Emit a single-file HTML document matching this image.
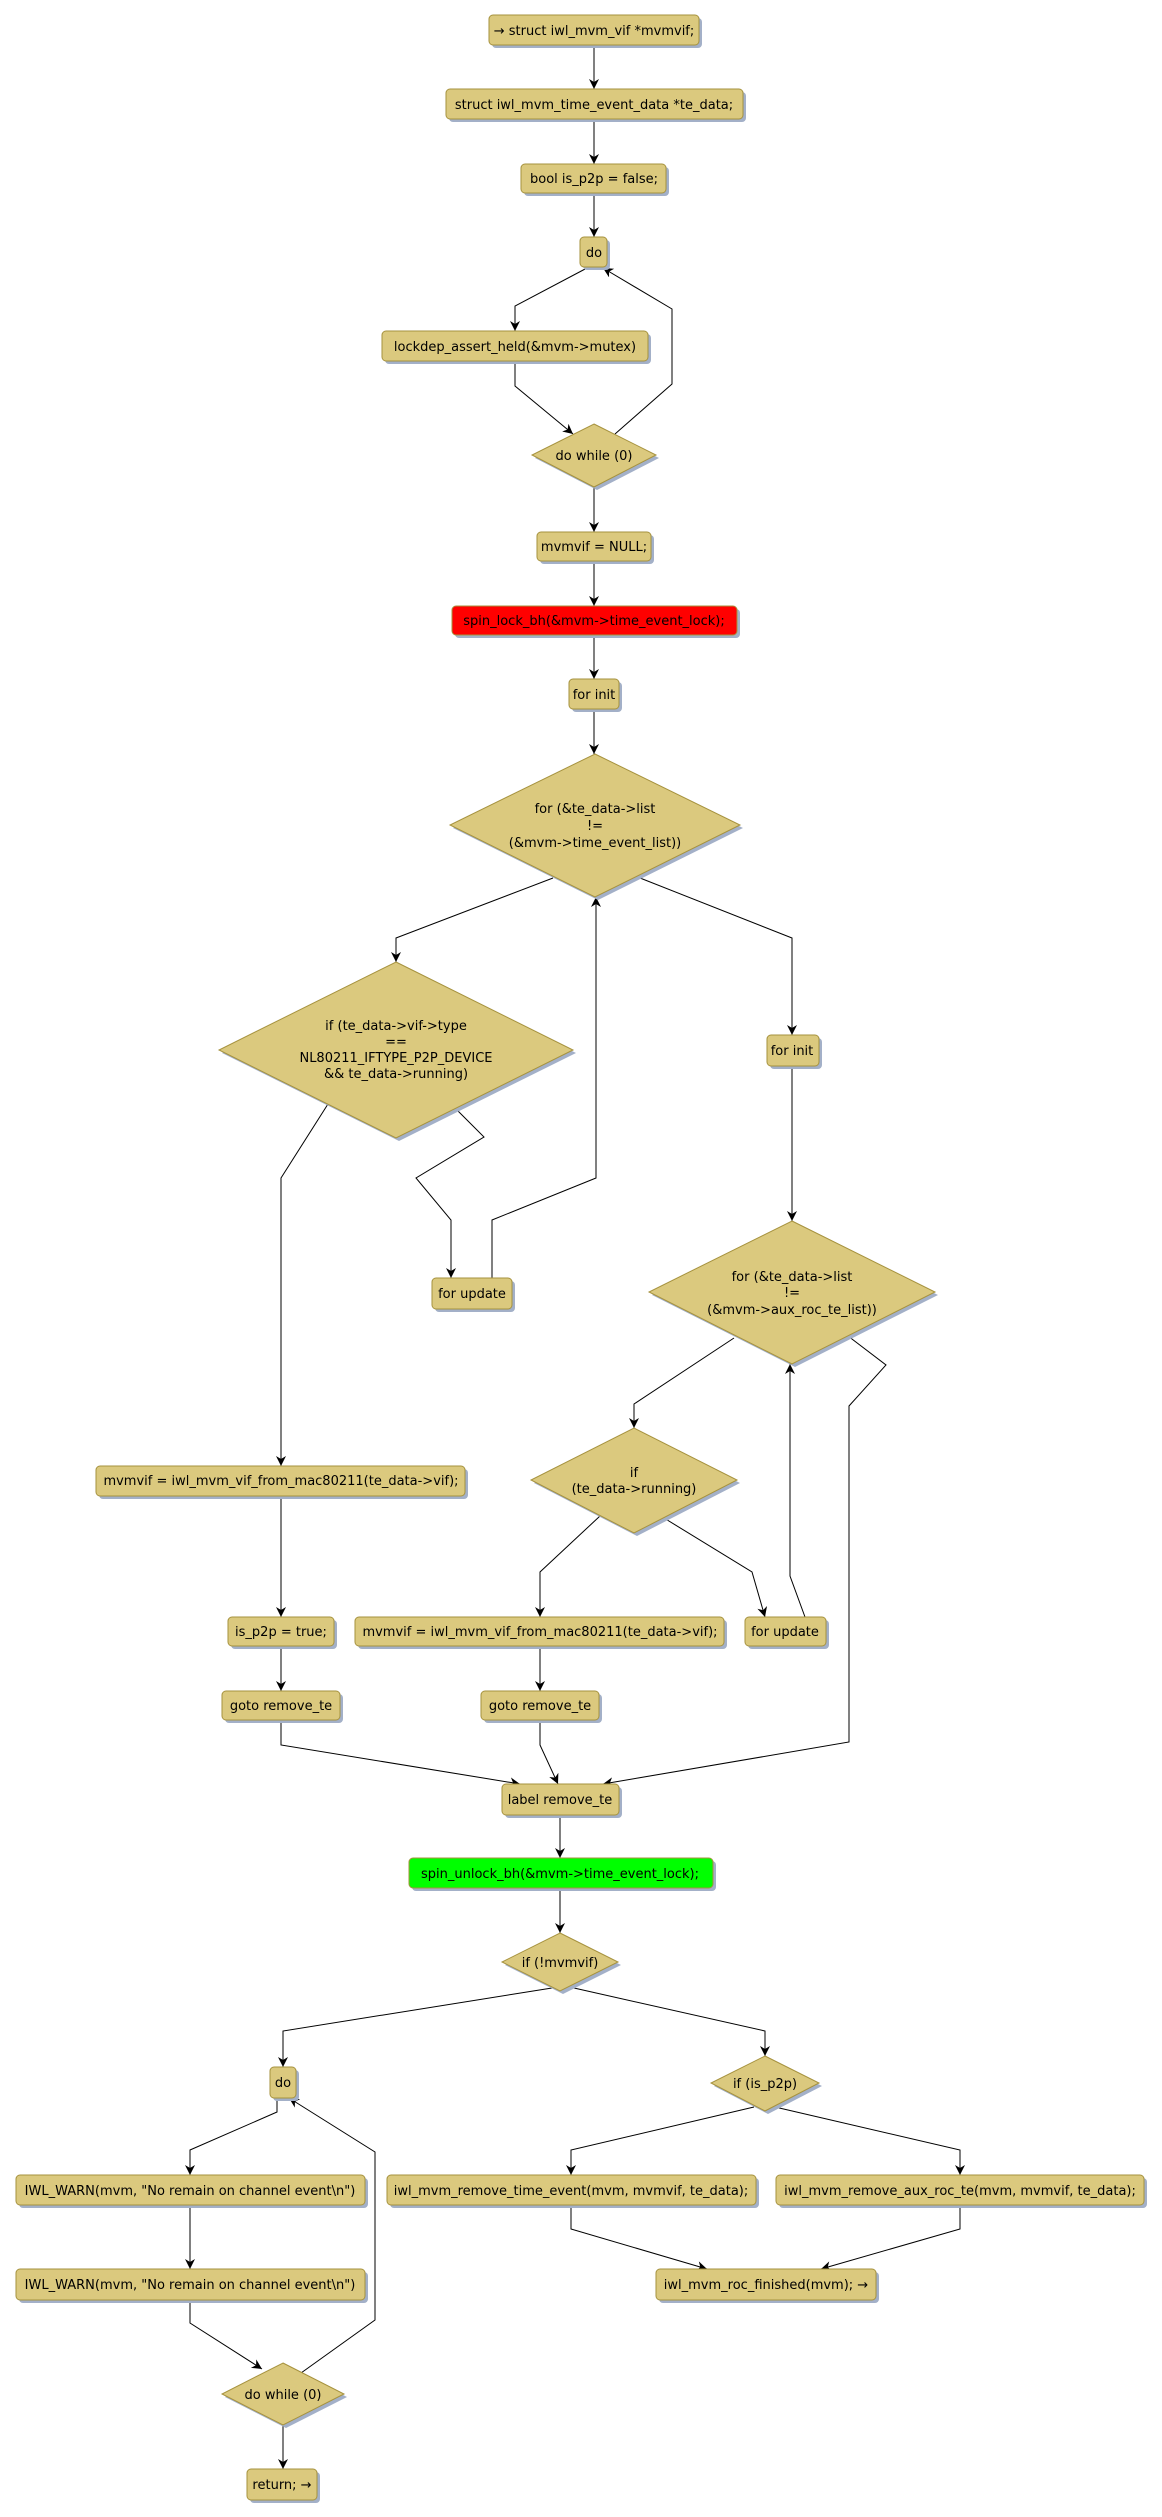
<!DOCTYPE html>
<html><head><meta charset="utf-8"><style>
html,body{margin:0;padding:0;background:#fff;}
svg{display:block;}
text{font-family:"DejaVu Sans","Liberation Sans",sans-serif;font-size:13px;fill:#000;}
.b{fill:#DBC97E;stroke:#A6923E;stroke-width:1;}
.s{fill:#A3B0C8;}
.e{fill:none;stroke:#000;stroke-width:1;}
</style></head><body>
<svg width="1162" height="2517" viewBox="0 0 1162 2517" xmlns="http://www.w3.org/2000/svg">
<defs>
<marker id="a" markerWidth="12" markerHeight="12" refX="10" refY="5" orient="auto" markerUnits="userSpaceOnUse">
<path d="M0,0 L10,5 L0,10 L3,5 z" fill="#000"/>
</marker>
</defs>

<!-- edges -->
<g class="e" marker-end="url(#a)">
<polyline class="e" points="594,45 594,89"/>
<polyline class="e" points="594,119 594,164"/>
<polyline class="e" points="594,193 594,237"/>
<polyline class="e" points="587,268 515,306 515,331"/>
<polyline class="e" points="515,361 515,386 573,434"/>
<polyline class="e" points="615,434 672,384 672,309 603,268"/>
<polyline class="e" points="594,487 594,532"/>
<polyline class="e" points="594,561 594,606"/>
<polyline class="e" points="594,635 594,679"/>
<polyline class="e" points="594,709 594,754"/>
<polyline class="e" points="553,878 396,938 396,962"/>
<polyline class="e" points="640,878 792,938 792,1035"/>
<polyline class="e" points="792,1066 792,1221"/>
<polyline class="e" points="328,1104 281,1178 281,1466"/>
<polyline class="e" points="455,1108 484,1137 416,1178 451,1220 451,1278"/>
<polyline class="e" points="492,1278 492,1220 596,1178 596,897"/>
<polyline class="e" points="734,1338 634,1404 634,1428"/>
<polyline class="e" points="848,1336 886,1365 849,1406 849,1742 603,1784"/>
<polyline class="e" points="805,1617 790,1576 790,1364"/>
<polyline class="e" points="600,1516 540,1572 540,1617"/>
<polyline class="e" points="664,1518 752,1572 765,1617"/>
<polyline class="e" points="281,1495 281,1617"/>
<polyline class="e" points="281,1646 281,1691"/>
<polyline class="e" points="540,1646 540,1691"/>
<polyline class="e" points="281,1720 281,1745 520,1784"/>
<polyline class="e" points="540,1720 540,1745 558,1784"/>
<polyline class="e" points="560,1815 560,1858"/>
<polyline class="e" points="560,1888 560,1933"/>
<polyline class="e" points="552,1988 283,2031 283,2067"/>
<polyline class="e" points="574,1988 765,2031 765,2056"/>
<polyline class="e" points="277,2098 277,2112 190,2150 190,2175"/>
<polyline class="e" points="190,2205 190,2269"/>
<polyline class="e" points="190,2300 190,2323 262,2369"/>
<polyline class="e" points="301,2373 375,2320 375,2152 289,2098"/>
<polyline class="e" points="283,2425 283,2469"/>
<polyline class="e" points="754,2107 571,2150 571,2175"/>
<polyline class="e" points="775,2107 960,2150 960,2175"/>
<polyline class="e" points="571,2205 571,2229 707,2269"/>
<polyline class="e" points="960,2205 960,2229 821,2269"/>
</g>

<!-- boxes: shadow + box -->
<g>
<rect class="s" x="492" y="18" width="210" height="30" rx="4"/><rect class="b" x="489" y="15" width="210" height="30" rx="4"/>
<rect class="s" x="449" y="92" width="297" height="30" rx="4"/><rect class="b" x="446" y="89" width="297" height="30" rx="4"/>
<rect class="s" x="524" y="167" width="145" height="29" rx="4"/><rect class="b" x="521" y="164" width="145" height="29" rx="4"/>
<rect class="s" x="583" y="240" width="27" height="30" rx="4"/><rect class="b" x="580" y="237" width="27" height="30" rx="4"/>
<rect class="s" x="385" y="334" width="266" height="30" rx="4"/><rect class="b" x="382" y="331" width="266" height="30" rx="4"/>
<rect class="s" x="540" y="535" width="114" height="29" rx="4"/><rect class="b" x="537" y="532" width="114" height="29" rx="4"/>
<rect class="s" x="455" y="609" width="285" height="29" rx="4"/><rect x="452" y="606" width="285" height="29" rx="4" fill="#FF0000" stroke="#A6923E"/>
<rect class="s" x="572" y="682" width="50" height="30" rx="4"/><rect class="b" x="569" y="679" width="50" height="30" rx="4"/>
<rect class="s" x="770" y="1038" width="52" height="31" rx="4"/><rect class="b" x="767" y="1035" width="52" height="31" rx="4"/>
<rect class="s" x="435" y="1281" width="80" height="31" rx="4"/><rect class="b" x="432" y="1278" width="80" height="31" rx="4"/>
<rect class="s" x="99" y="1469" width="369" height="30" rx="4"/><rect class="b" x="96" y="1466" width="369" height="30" rx="4"/>
<rect class="s" x="231" y="1620" width="106" height="29" rx="4"/><rect class="b" x="228" y="1617" width="106" height="29" rx="4"/>
<rect class="s" x="358" y="1620" width="369" height="29" rx="4"/><rect class="b" x="355" y="1617" width="369" height="29" rx="4"/>
<rect class="s" x="748" y="1620" width="81" height="29" rx="4"/><rect class="b" x="745" y="1617" width="81" height="29" rx="4"/>
<rect class="s" x="225" y="1694" width="118" height="29" rx="4"/><rect class="b" x="222" y="1691" width="118" height="29" rx="4"/>
<rect class="s" x="484" y="1694" width="118" height="29" rx="4"/><rect class="b" x="481" y="1691" width="118" height="29" rx="4"/>
<rect class="s" x="505" y="1787" width="117" height="31" rx="4"/><rect class="b" x="502" y="1784" width="117" height="31" rx="4"/>
<rect class="s" x="412" y="1861" width="304" height="30" rx="4"/><rect x="409" y="1858" width="304" height="30" rx="4" fill="#00FF00" stroke="#A6923E"/>
<rect class="s" x="273" y="2070" width="26" height="31" rx="4"/><rect class="b" x="270" y="2067" width="26" height="31" rx="4"/>
<rect class="s" x="19" y="2178" width="349" height="30" rx="4"/><rect class="b" x="16" y="2175" width="349" height="30" rx="4"/>
<rect class="s" x="390" y="2178" width="369" height="30" rx="4"/><rect class="b" x="387" y="2175" width="369" height="30" rx="4"/>
<rect class="s" x="779" y="2178" width="368" height="30" rx="4"/><rect class="b" x="776" y="2175" width="368" height="30" rx="4"/>
<rect class="s" x="19" y="2272" width="349" height="31" rx="4"/><rect class="b" x="16" y="2269" width="349" height="31" rx="4"/>
<rect class="s" x="659" y="2272" width="220" height="31" rx="4"/><rect class="b" x="656" y="2269" width="220" height="31" rx="4"/>
<rect class="s" x="250" y="2472" width="70" height="31" rx="4"/><rect class="b" x="247" y="2469" width="70" height="31" rx="4"/>
</g>

<!-- diamonds -->
<g>
<polygon class="s" points="597,427 659,458 597,490 535,458"/><polygon class="b" points="594,424 656,455 594,487 532,455"/>
<polygon class="s" points="598,757 743,828 598,900 453,828"/><polygon class="b" points="595,754 740,825 595,897 450,825"/>
<polygon class="s" points="399,965 576,1053 399,1141 222,1053"/><polygon class="b" points="396,962 573,1050 396,1138 219,1050"/>
<polygon class="s" points="795,1224 938,1295 795,1367 652,1295"/><polygon class="b" points="792,1221 935,1292 792,1364 649,1292"/>
<polygon class="s" points="637,1431 740,1483 637,1536 534,1483"/><polygon class="b" points="634,1428 737,1480 634,1533 531,1480"/>
<polygon class="s" points="563,1936 621,1965 563,1994 505,1965"/><polygon class="b" points="560,1933 618,1962 560,1991 502,1962"/>
<polygon class="s" points="768,2059 822,2086 768,2114 714,2086"/><polygon class="b" points="765,2056 819,2083 765,2111 711,2083"/>
<polygon class="s" points="286,2366 347,2397 286,2428 225,2397"/><polygon class="b" points="283,2363 344,2394 283,2425 222,2394"/>
</g>

<!-- labels -->
<g text-anchor="middle">
<text x="594" y="35">→ struct iwl_mvm_vif *mvmvif;</text>
<text x="594" y="109">struct iwl_mvm_time_event_data *te_data;</text>
<text x="594" y="183">bool is_p2p = false;</text>
<text x="594" y="257">do</text>
<text x="515" y="351">lockdep_assert_held(&amp;mvm-&gt;mutex)</text>
<text x="594" y="460">do while (0)</text>
<text x="594" y="551">mvmvif = NULL;</text>
<text x="594" y="625">spin_lock_bh(&amp;mvm-&gt;time_event_lock);</text>
<text x="594" y="699">for init</text>
<text x="595" y="813">for (&amp;te_data-&gt;list</text>
<text x="595" y="830">!=</text>
<text x="595" y="847">(&amp;mvm-&gt;time_event_list))</text>
<text x="396" y="1030">if (te_data-&gt;vif-&gt;type</text>
<text x="396" y="1046">==</text>
<text x="396" y="1062">NL80211_IFTYPE_P2P_DEVICE</text>
<text x="396" y="1078">&amp;&amp; te_data-&gt;running)</text>
<text x="792" y="1055">for init</text>
<text x="472" y="1298">for update</text>
<text x="792" y="1281">for (&amp;te_data-&gt;list</text>
<text x="792" y="1297">!=</text>
<text x="792" y="1314">(&amp;mvm-&gt;aux_roc_te_list))</text>
<text x="281" y="1485">mvmvif = iwl_mvm_vif_from_mac80211(te_data-&gt;vif);</text>
<text x="634" y="1477">if</text>
<text x="634" y="1493">(te_data-&gt;running)</text>
<text x="281" y="1636">is_p2p = true;</text>
<text x="540" y="1636">mvmvif = iwl_mvm_vif_from_mac80211(te_data-&gt;vif);</text>
<text x="785" y="1636">for update</text>
<text x="281" y="1710">goto remove_te</text>
<text x="540" y="1710">goto remove_te</text>
<text x="560" y="1804">label remove_te</text>
<text x="560" y="1878">spin_unlock_bh(&amp;mvm-&gt;time_event_lock);</text>
<text x="560" y="1967">if (!mvmvif)</text>
<text x="283" y="2087">do</text>
<text x="765" y="2088">if (is_p2p)</text>
<text x="190" y="2195">IWL_WARN(mvm, "No remain on channel event\n")</text>
<text x="571" y="2195">iwl_mvm_remove_time_event(mvm, mvmvif, te_data);</text>
<text x="960" y="2195">iwl_mvm_remove_aux_roc_te(mvm, mvmvif, te_data);</text>
<text x="190" y="2289">IWL_WARN(mvm, "No remain on channel event\n")</text>
<text x="766" y="2289">iwl_mvm_roc_finished(mvm); →</text>
<text x="283" y="2399">do while (0)</text>
<text x="282" y="2489">return; →</text>
</g>
</svg>
</body></html>
